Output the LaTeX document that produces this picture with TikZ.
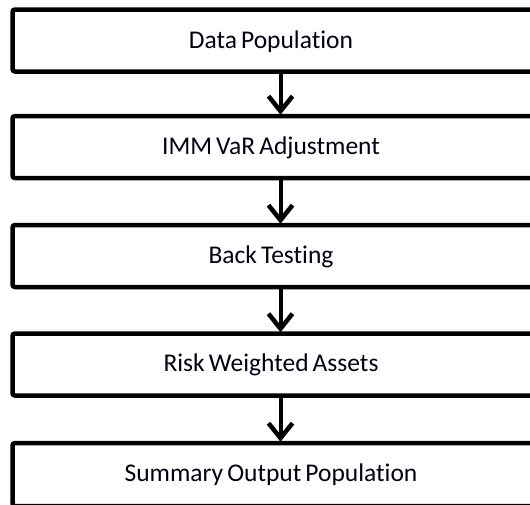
\documentclass[tikz,border=0pt]{standalone}
\usepackage{fontspec}
\setmainfont[Ligatures=NoCommon, WordSpace=0.7]{Carlito}
\usetikzlibrary{arrows.meta}
\tikzset{
  box/.style={draw=black, line width=4.5pt, rounded corners=2.5pt, minimum width=536pt, minimum height=62pt, inner sep=0pt, fill=white},
  lbl/.style={font=\fontsize{25.5}{30}\selectfont, text=black!92!blue, inner sep=0pt},
  arr/.style={line width=4pt, -{Straight Barb[length=15pt, width=24pt, line width=4.5pt]}, shorten >=-1pt}
}
\begin{document}
\begin{tikzpicture}[x=1pt,y=1pt]
\useasboundingbox (0,0) rectangle (530,-504);
\clip (0,0) rectangle (530,-504);
\node[box] (b1) at (280.5,-40.5) {};
\node[box] (b2) at (280.5,-147) {};
\node[box] (b3) at (280.5,-256) {};
\node[box] (b4) at (280.5,-364.5) {};
\node[box, minimum height=63pt] (b5) at (280.5,-474.5) {};
\node[lbl] (t1) at (271,-42) {Data Population};
\node[lbl] (t2) at (271,-148) {IMM VaR Adjustment};
\node[lbl] (t3) at (271,-257) {Back Testing};
\node[lbl] (t4) at (271,-365) {Risk Weighted Assets};
\node[lbl] (t5) at (271,-475) {Summary Output Population};
\draw[arr] (b1.south) -- (b2.north);
\draw[arr] (b2.south) -- (b3.north);
\draw[arr] (b3.south) -- (b4.north);
\draw[arr] (b4.south) -- (b5.north);
\end{tikzpicture}
\end{document}
